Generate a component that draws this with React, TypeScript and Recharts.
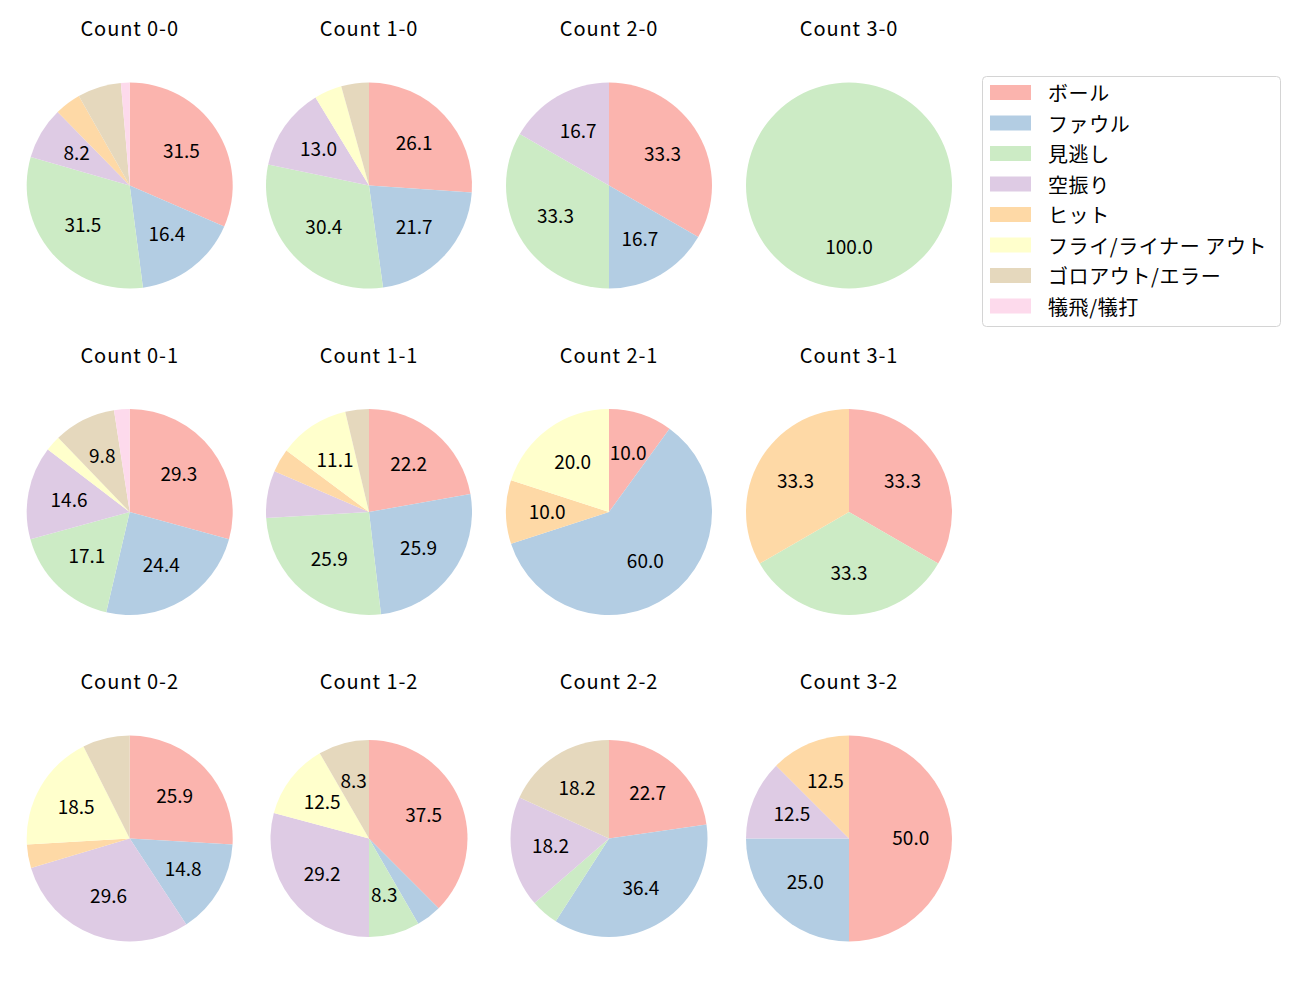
import React from 'react';
import { PieChart, Pie, Cell } from 'recharts';

const categories = ['ボール', 'ファウル', '見逃し', '空振り', 'ヒット', 'フライ/ライナー アウト', 'ゴロアウト/エラー', '犠飛/犠打'];
const colors = ['#fbb4ae', '#b3cde3', '#ccebc5', '#decbe4', '#fed9a6', '#ffffcc', '#e5d8bd', '#fddaec'];

const titles = [
  'Count 0-0', 'Count 1-0', 'Count 2-0', 'Count 3-0',
  'Count 0-1', 'Count 1-1', 'Count 2-1', 'Count 3-1',
  'Count 0-2', 'Count 1-2', 'Count 2-2', 'Count 3-2',
];

const count00 = [23, 12, 23, 6, 3, 0, 5, 1];
const count10 = [6, 5, 7, 3, 0, 1, 1, 0];
const count20 = [2, 1, 2, 1, 0, 0, 0, 0];
const count30 = [0, 0, 1, 0, 0, 0, 0, 0];
const count01 = [12, 10, 7, 6, 0, 1, 4, 1];
const count11 = [6, 7, 7, 2, 1, 3, 1, 0];
const count21 = [1, 6, 0, 0, 1, 2, 0, 0];
const count31 = [1, 0, 1, 0, 1, 0, 0, 0];
const count02 = [7, 4, 0, 8, 1, 5, 2, 0];
const count12 = [9, 1, 2, 7, 0, 3, 2, 0];
const count22 = [5, 8, 1, 4, 0, 0, 4, 0];
const count32 = [4, 2, 0, 1, 1, 0, 0, 0];

const allCounts = [
  count00, count10, count20, count30,
  count01, count11, count21, count31,
  count02, count12, count22, count32,
];

const FONT = '"Noto Sans CJK JP", "Noto Sans", sans-serif';
const colX = [129.7, 369, 609, 849];
const rowY = [185.5, 512, 838.5];
const RAD = Math.PI / 180;

function buildData(values: number[]) {
  return values
    .map((v, i) => ({ name: categories[i], value: v, color: colors[i] }))
    .filter((d) => d.value > 0);
}

const renderLabel = (props: any) => {
  const { cx, cy, midAngle, outerRadius, percent } = props;
  const pct = percent * 100;
  if (pct < 8) return null;
  const r = outerRadius * 0.6;
  const x = cx + r * Math.cos(-midAngle * RAD);
  const y = cy + r * Math.sin(-midAngle * RAD) - 2;
  return (
    <text x={x} y={y} textAnchor="middle" dominantBaseline="central" fill="#000" fontSize={19} fontFamily={FONT}>
      {pct.toFixed(1)}
    </text>
  );
};

export default function App() {
  return (
    <div style={{ position: 'absolute', left: 0, top: 0, width: 1300, height: 1000, background: '#fff' }}>
      <div style={{ position: 'absolute', left: 0, top: 0 }}>
        <PieChart width={1300} height={1000} margin={{ top: 0, right: 0, bottom: 0, left: 0 }}>
          {allCounts.map((vals, idx) => {
            const col = idx % 4;
            const row = Math.floor(idx / 4);
            const small = idx === 9 || idx === 10;
            const data = buildData(vals);
            return (
              <Pie
                key={idx}
                data={data}
                dataKey="value"
                nameKey="name"
                cx={colX[col]}
                cy={rowY[row]}
                outerRadius={small ? 98.5 : 103}
                innerRadius={0}
                startAngle={90}
                endAngle={-270}
                stroke="none"
                label={renderLabel}
                labelLine={false}
                isAnimationActive={false}
              >
                {data.map((d, i) => (
                  <Cell key={i} fill={d.color} />
                ))}
              </Pie>
            );
          })}
        </PieChart>
      </div>
      <svg width={1300} height={1000} style={{ position: 'absolute', left: 0, top: 0, pointerEvents: 'none' }}>
        {titles.map((t, idx) => (
          <text
            key={t}
            x={colX[idx % 4]}
            y={36 + Math.floor(idx / 4) * 326.7}
            textAnchor="middle"
            fontSize={20}
            letterSpacing={0.9}
            fontFamily={FONT}
            fill="#000"
          >
            {t}
          </text>
        ))}
        <rect x={982.5} y={76.5} width={298} height={250} rx={4} ry={4} fill="#fff" stroke="#d4d4d4" strokeWidth={1} />
        {categories.map((c, i) => {
          const cyv = 92.5 + i * 30.5;
          return (
            <g key={c}>
              <rect x={990} y={cyv - 7.5} width={41} height={15} fill={colors[i]} />
              <text x={1048} y={cyv} dominantBaseline="central" fontSize={20} letterSpacing={0.6} fontFamily={FONT} fill="#000">
                {c}
              </text>
            </g>
          );
        })}
      </svg>
    </div>
  );
}
